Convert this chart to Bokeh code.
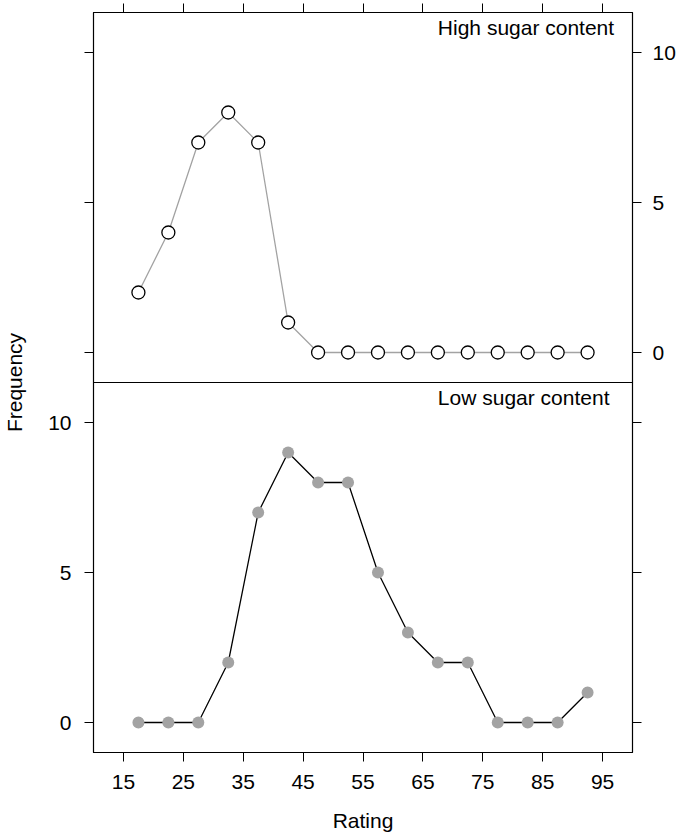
from bokeh.plotting import figure
from bokeh.models import (Range1d, LinearAxis, FixedTicker, CustomJSTickFormatter,
                          CustomLabelingPolicy, Span, Label)
from bokeh.embed import file_html
from bokeh.resources import INLINE

# ---- data ----
rating = [17.5, 22.5, 27.5, 32.5, 37.5, 42.5, 47.5, 52.5,
          57.5, 62.5, 67.5, 72.5, 77.5, 82.5, 87.5, 92.5]
high_sugar = [2, 4, 7, 8, 7, 1, 0, 0, 0, 0, 0, 0, 0, 0, 0, 0]
low_sugar = [0, 0, 0, 2, 7, 9, 8, 8, 5, 3, 2, 2, 0, 0, 0, 1]
x_ticks = [15, 25, 35, 45, 55, 65, 75, 85, 95]
y_ticks = [0, 5, 10]
panel_titles = ["High sugar content", "Low sugar content"]

FONT = "Liberation Sans"
FS = "21px"
GRAY = "#a3a3a3"

# each panel covers the same data range; the two panels are stacked
y_lo, y_hi = -1.0, 34.0 / 3.0
span = y_hi - y_lo

p = figure(width=678, height=835, output_backend="svg", toolbar_location=None,
           x_range=Range1d(10, 100), y_range=Range1d(y_lo, y_lo + 2 * span),
           min_border_left=92, min_border_right=46, min_border_top=12,
           min_border_bottom=83, x_axis_location=None, y_axis_location=None)
p.extra_y_ranges = {"top": Range1d(y_lo - span, y_hi)}
p.grid.visible = False
p.outline_line_color = "black"
p.outline_line_width = 1.2
p.background_fill_color = "white"
p.border_fill_color = "white"

hide_all = CustomLabelingPolicy(code="""
    for (const i of indices) { indices.unset(i) }
    return indices
""")
show_first3 = CustomLabelingPolicy(code="""
    for (const i of indices) { if (i >= 3) indices.unset(i) }
    return indices
""")
show_last3 = CustomLabelingPolicy(code="""
    for (const i of indices) { if (i < 3) indices.unset(i) }
    return indices
""")
left_fmt = CustomJSTickFormatter(code="return (tick > 10.5) ? '' : tick.toFixed(0);")
right_fmt = CustomJSTickFormatter(code="return (tick < -0.5) ? '' : tick.toFixed(0);")
empty_fmt = CustomJSTickFormatter(code="return '';")

def style_axis(ax):
    ax.major_tick_out = 9
    ax.major_tick_in = 0
    ax.minor_tick_out = 0
    ax.minor_tick_in = 0
    ax.major_tick_line_color = "black"
    ax.major_tick_line_width = 1
    ax.axis_line_color = "black"
    ax.major_label_text_font = FONT
    ax.major_label_text_font_size = FS
    ax.major_label_text_color = "black"
    ax.axis_label_text_font = FONT
    ax.axis_label_text_font_size = FS
    ax.axis_label_text_font_style = "normal"
    ax.axis_label_text_color = "black"

# bottom x axis (labelled)
xb = LinearAxis(ticker=FixedTicker(ticks=x_ticks), axis_label="Rating")
style_axis(xb)
xb.major_label_standoff = 13
xb.axis_label_standoff = 17
p.add_layout(xb, "below")

# top x axis (ticks only)
xt = LinearAxis(ticker=FixedTicker(ticks=x_ticks), major_label_policy=hide_all,
                formatter=empty_fmt)
style_axis(xt)
xt.major_label_standoff = 0
xt.major_label_text_font_size = "0px"
p.add_layout(xt, "above")

# left axis: labels for bottom panel, ticks only in top panel
yl = LinearAxis(ticker=FixedTicker(ticks=y_ticks + [t + span for t in y_ticks]),
                axis_label="Frequency", formatter=left_fmt,
                major_label_policy=show_first3)
style_axis(yl)
yl.major_label_standoff = 13
yl.axis_label_standoff = 19
p.add_layout(yl, "left")

# right axis: labels for top panel, ticks only in bottom panel
yr = LinearAxis(y_range_name="top",
                ticker=FixedTicker(ticks=[t - span for t in y_ticks] + y_ticks),
                formatter=right_fmt, major_label_policy=show_last3)
style_axis(yr)
yr.major_label_standoff = 11
p.add_layout(yr, "right")

# divider between panels
p.add_layout(Span(location=y_hi, dimension="width", line_color="black", line_width=1.2))

# top panel: high sugar
p.line(rating, high_sugar, y_range_name="top", line_color=GRAY, line_width=1.3)
p.scatter(rating, high_sugar, y_range_name="top", size=13, fill_color="white",
          line_color="black", line_width=1.3)

# bottom panel: low sugar
p.line(rating, low_sugar, line_color="black", line_width=1.3)
p.scatter(rating, low_sugar, size=12, fill_color=GRAY, line_color=None)

# panel titles
p.add_layout(Label(x=67.5, y=10.84, y_range_name="top", text=panel_titles[0],
                   text_font=FONT, text_font_size=FS, text_color="black",
                   text_baseline="alphabetic", text_align="left"))
p.add_layout(Label(x=67.5, y=10.84, text=panel_titles[1],
                   text_font=FONT, text_font_size=FS, text_color="black",
                   text_baseline="alphabetic", text_align="left"))

open("out.html", "w").write(file_html(p, INLINE))
